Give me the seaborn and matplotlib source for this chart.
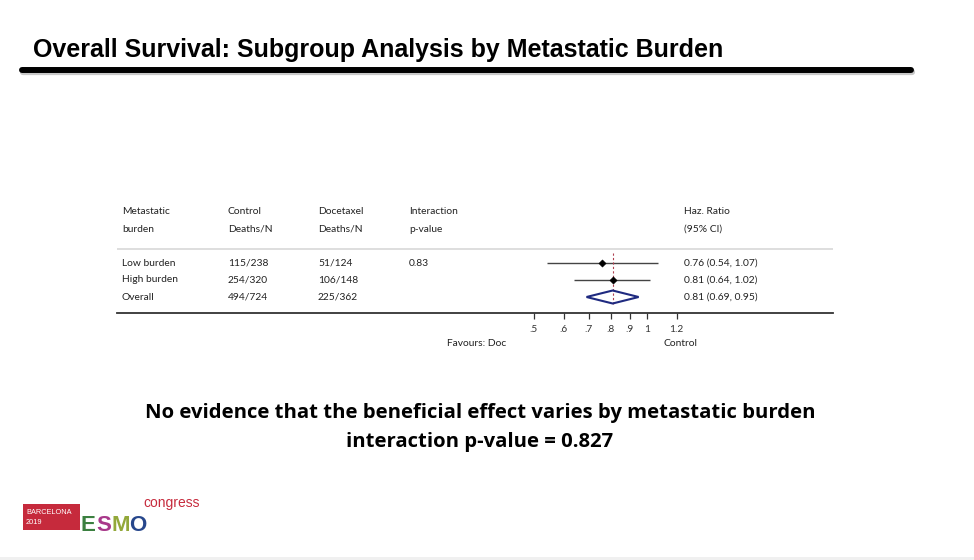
import numpy as np
import pandas as pd
import matplotlib
matplotlib.use('Agg')
import matplotlib.pyplot as plt
import seaborn as sns
from matplotlib.patches import Rectangle, Polygon
from matplotlib.ticker import FixedLocator, FixedFormatter, NullLocator

# data
subgroups = ['Low burden', 'High burden', 'Overall']
control_deaths = ['115/238', '254/320', '494/724']
docetaxel_deaths = ['51/124', '106/148', '225/362']
interaction_p = ['0.83', '', '']
hr = [0.76, 0.81, 0.81]
ci_low = [0.54, 0.64, 0.69]
ci_high = [1.07, 1.02, 0.95]
tick_values = [0.5, 0.6, 0.7, 0.8, 0.9, 1.0, 1.2]
tick_labels = ['.5', '.6', '.7', '.8', '.9', '1', '1.2']

df = pd.DataFrame({'subgroup': subgroups, 'hr': hr, 'lo': ci_low, 'hi': ci_high})
df['row'] = np.arange(len(df))
df['label'] = [f'{h:.2f} ({l:.2f}, {u:.2f})' for h, l, u in zip(hr, ci_low, ci_high)]

sns.set_theme(style='white')
plt.rcParams['font.family'] = ['Lato', 'DejaVu Sans']

W, H = 974, 560
fig = plt.figure(figsize=(W / 100, H / 100), dpi=100)
fig.patch.set_facecolor('white')


def fx(px):
    return px / W


def fy(py):
    return 1 - py / H


# title and rule
fig.text(fx(33), fy(57), 'Overall Survival: Subgroup Analysis by Metastatic Burden',
         family=['Liberation Sans', 'DejaVu Sans'],
         fontsize=18, fontweight='bold', color='black', va='baseline', ha='left')
fig.add_artist(plt.Line2D([fx(23), fx(912)], [fy(71.5), fy(71.5)], color='#c8c8c8', lw=4.5))
fig.add_artist(plt.Line2D([fx(22), fx(911)], [fy(70), fy(70)], color='black', lw=4.3))

# forest plot axes
left, right, top, bottom = 117, 833, 200, 313
ax = fig.add_axes([fx(left), fy(bottom), (right - left) / W, (bottom - top) / H])
ax.set_xscale('log')
px_per_ln = 163.0
ax.set_xlim(np.exp((left - 647) / px_per_ln), np.exp((right - 647) / px_per_ln))
row_px = 17.0
ax.set_ylim((bottom - 263) / row_px, (top - 263) / row_px)
ax.patch.set_alpha(0)
for s in ['top', 'left', 'right']:
    ax.spines[s].set_visible(False)
ax.spines['bottom'].set_color('#333333')
ax.spines['bottom'].set_linewidth(1.3)
ax.xaxis.set_major_locator(FixedLocator(tick_values))
ax.xaxis.set_major_formatter(FixedFormatter(tick_labels))
ax.xaxis.set_minor_locator(NullLocator())
ax.tick_params(axis='x', which='major', direction='out', length=4, width=0.9,
               color='#333333', pad=5, labelsize=7.3, labelcolor='#333333', bottom=True)
ax.set_yticks([])

# header separator
ax.axhline((249 - 263) / row_px, color='#d8d8d8', lw=1.2)

# confidence intervals and estimates
sub = df.iloc[:2]
ax.hlines(sub['row'], sub['lo'], sub['hi'], color='#444444', lw=1.0)
sns.scatterplot(data=sub, x='hr', y='row', marker='D', s=14, color='black',
                edgecolor='black', ax=ax, zorder=4, legend=False)
ov = df.iloc[2]
dh = 6.5 / row_px
ax.add_patch(Polygon([[ov['lo'], ov['row']], [ov['hr'], ov['row'] - dh],
                      [ov['hi'], ov['row']], [ov['hr'], ov['row'] + dh]],
                     closed=True, fill=False, edgecolor='#1f2a80', lw=1.5, zorder=3))
ax.vlines(ov['hr'], (253 - 263) / row_px, (304 - 263) / row_px, color='#b04050',
          linestyles=(0, (2, 2)), lw=0.8, zorder=2)
ax.set_xlabel('')
ax.set_ylabel('')

# table text
tr = ax.get_yaxis_transform()
col_px = [122, 228, 318, 409, 684]
col_x = [(c - left) / (right - left) for c in col_px]
hdr1 = ['Metastatic', 'Control', 'Docetaxel', 'Interaction', 'Haz. Ratio']
hdr2 = ['burden', 'Deaths/N', 'Deaths/N', 'p-value', '(95% CI)']
txt_kw = dict(transform=tr, fontsize=7.4, color='#222222', va='center', ha='left')
for x, a, b in zip(col_x, hdr1, hdr2):
    ax.text(x, (211 - 263) / row_px, a, **txt_kw)
    ax.text(x, (229 - 263) / row_px, b, **txt_kw)
for i, r in df.iterrows():
    vals = [r['subgroup'], control_deaths[i], docetaxel_deaths[i], interaction_p[i], r['label']]
    for x, v in zip(col_x, vals):
        ax.text(x, r['row'], v, **txt_kw)

fig.text(fx(477), fy(343), 'Favours: Doc', fontsize=7.4, color='#222222', ha='center', va='center')
fig.text(fx(680), fy(343), 'Control', fontsize=7.4, color='#222222', ha='center', va='center')

# conclusion text
big = dict(family=['Open Sans', 'DejaVu Sans'], fontsize=14.6, fontweight='bold',
           color='black', ha='center', va='center')
fig.text(fx(480), fy(413), 'No evidence that the beneficial effect varies by metastatic burden', **big)
fig.text(fx(480), fy(442), 'interaction p-value = 0.827', **big)

# congress logo
logo_font = ['Liberation Sans', 'DejaVu Sans']
fig.add_artist(Rectangle((fx(23), fy(530)), (80 - 23) / W, (530 - 504) / H,
                         transform=fig.transFigure, color='#c62a3c', lw=0))
fig.text(fx(26), fy(512), 'BARCELONA', family=logo_font, fontsize=5.3, color='white',
         ha='left', va='center')
fig.text(fx(26), fy(523), '2019', family=logo_font, fontsize=5.3, color='white',
         ha='left', va='center')
esmo_colors = ['#3b8040', '#a8388a', '#93a83a', '#27478c']
esmo_x = [88, 104, 121, 138]
for ch, c, x in zip('ESMO', esmo_colors, esmo_x):
    fig.text(fx(x), fy(531), ch, family=logo_font, fontsize=16, fontweight='bold',
             color=c, ha='center', va='baseline')
fig.text(fx(143), fy(507), 'congress', family=logo_font, fontsize=10, color='#c62a3c',
         ha='left', va='baseline')

# bottom grey strip
fig.add_artist(Rectangle((0, 0), 1, 3 / H, transform=fig.transFigure, color='#f0f0f0', lw=0))

fig.savefig('out.png', dpi=100, facecolor='white')
